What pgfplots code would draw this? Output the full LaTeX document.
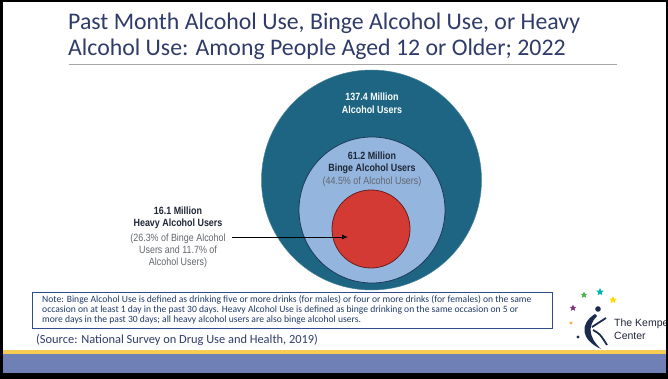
\documentclass[border=0pt]{standalone}
\usepackage{fontspec}
\setmainfont{Carlito}
\newfontfamily\narrowf{Liberation Sans}[FakeStretch=0.85]
\newfontfamily\arialf{Liberation Sans}
\usepackage{pgfplots}
\pgfplotsset{compat=1.18}
\usetikzlibrary{arrows.meta,shapes.geometric}
\definecolor{titlecol}{HTML}{2F3B68}
\definecolor{outercol}{HTML}{1D6583}
\definecolor{midcol}{HTML}{94B6DE}
\definecolor{midedge}{HTML}{1E3A5A}
\definecolor{redcol}{HTML}{D33A34}
\definecolor{rededge}{HTML}{6A1E1E}
\definecolor{darktxt}{HTML}{1E2636}
\definecolor{graytxt}{HTML}{62666E}
\definecolor{notecol}{HTML}{1F3A68}
\definecolor{boxcol}{HTML}{2F4C8C}
\definecolor{bandcol}{HTML}{6F80B6}
\definecolor{yellowcol}{HTML}{F8CC50}
\definecolor{logonavy}{HTML}{1B2A4E}
\begin{document}
\begin{tikzpicture}
\begin{axis}[
  at={(0,0)}, anchor=south west,
  width=668pt, height=378pt, scale only axis,
  xmin=0, xmax=668, ymin=0, ymax=378, y dir=reverse,
  axis lines=box, ticks=none, axis on top, set layers,
  axis line style={black, line width=5pt},
  clip=false,
]
% bottom band
\fill[yellowcol] (axis cs:0,349.5) rectangle (axis cs:668,353.5);
\fill[bandcol] (axis cs:0,353.5) rectangle (axis cs:668,378);
\fill[black] (axis cs:0,373) rectangle (axis cs:668,378);

% title
\node[anchor=base west, font=\fontsize{23.8}{26}\selectfont, text=titlecol, inner sep=0]
  at (axis cs:68,30) {Past Month Alcohol Use, Binge Alcohol Use, or Heavy};
\node[anchor=base west, font=\fontsize{23.8}{26}\selectfont, text=titlecol, inner sep=0]
  at (axis cs:68,56) {Alcohol Use: Among People Aged 12 or Older; 2022};
\draw[gray!70, line width=1.2pt] (axis cs:69,64.5) -- (axis cs:617,64.5);

% nested circles (area proportional to users, millions)
\addplot[only marks, mark=*, mark size=110pt,
  mark options={fill=outercol, draw=outercol!80!white, line width=0.5pt}]
  coordinates {(371.5,180)}; % 137.4 Million
\addplot[only marks, mark=*, mark size=73pt,
  mark options={fill=midcol, draw=midedge, line width=0.8pt}]
  coordinates {(372,210)};   % 61.2 Million
\addplot[only marks, mark=*, mark size=39pt,
  mark options={fill=redcol, draw=rededge, line width=0.8pt}]
  coordinates {(371,229)};   % 16.1 Million

\begin{pgfonlayer}{axis foreground}
% circle labels
\node[anchor=base, font=\narrowf\bfseries\fontsize{10.5}{12}\selectfont, text=white, inner sep=0]
  at (axis cs:372,101) {137.4 Million};
\node[anchor=base, font=\narrowf\bfseries\fontsize{10.5}{12}\selectfont, text=white, inner sep=0]
  at (axis cs:372,113.5) {Alcohol Users};
\node[anchor=base, font=\narrowf\bfseries\fontsize{10.5}{12}\selectfont, text=darktxt, inner sep=0]
  at (axis cs:372,159) {61.2 Million};
\node[anchor=base, font=\narrowf\bfseries\fontsize{10.5}{12}\selectfont, text=darktxt, inner sep=0]
  at (axis cs:372,171.5) {Binge Alcohol Users};
\node[anchor=base, font=\narrowf\fontsize{10.5}{12}\selectfont, text=graytxt, inner sep=0]
  at (axis cs:372,184) {(44.5\% of Alcohol Users)};
\draw[black, line width=1pt, -{Latex[length=6pt,width=5pt]}] (axis cs:232,237) -- (axis cs:348,237);
\end{pgfonlayer}

% heavy users annotation
\node[anchor=base, font=\narrowf\bfseries\fontsize{10.5}{12}\selectfont, text=darktxt, inner sep=0]
  at (axis cs:178,214) {16.1 Million};
\node[anchor=base, font=\narrowf\bfseries\fontsize{10.5}{12}\selectfont, text=darktxt, inner sep=0]
  at (axis cs:178,226.5) {Heavy Alcohol Users};
\node[anchor=base, font=\narrowf\fontsize{10.5}{12}\selectfont, text=graytxt, inner sep=0]
  at (axis cs:178,241) {(26.3\% of Binge Alcohol};
\node[anchor=base, font=\narrowf\fontsize{10.5}{12}\selectfont, text=graytxt, inner sep=0]
  at (axis cs:178,253) {Users and 11.7\% of};
\node[anchor=base, font=\narrowf\fontsize{10.5}{12}\selectfont, text=graytxt, inner sep=0]
  at (axis cs:178,265) {Alcohol Users)};

% note box
\draw[boxcol, line width=0.9pt, fill=white] (axis cs:32,292) rectangle (axis cs:552,328);
\node[anchor=base west, font=\fontsize{9.6}{10}\selectfont, text=notecol, inner sep=0]
  at (axis cs:42,302) {Note: Binge Alcohol Use is defined as drinking five or more drinks (for males) or four or more drinks (for females) on the same};
\node[anchor=base west, font=\fontsize{9.6}{10}\selectfont, text=notecol, inner sep=0]
  at (axis cs:42,312) {occasion on at least 1 day in the past 30 days. Heavy Alcohol Use is defined as binge drinking on the same occasion on 5 or};
\node[anchor=base west, font=\fontsize{9.6}{10}\selectfont, text=notecol, inner sep=0]
  at (axis cs:42,322) {more days in the past 30 days; all heavy alcohol users are also binge alcohol users.};

% source
\node[anchor=base west, font=\fontsize{12.4}{14}\selectfont, text=titlecol, inner sep=0]
  at (axis cs:36,343) {(Source: National Survey on Drug Use and Health, 2019)};

% logo
\node[star, star points=5, star point ratio=2.2, fill=teal!60!cyan, inner sep=0, minimum size=8pt] at (axis cs:600,292) {};
\node[star, star points=5, star point ratio=2.2, fill=gray!60!green, inner sep=0, minimum size=7pt] at (axis cs:584,295) {};
\node[star, star points=5, star point ratio=2.2, fill=yellow!80!orange, inner sep=0, minimum size=8pt] at (axis cs:613,300) {};
\node[star, star points=5, star point ratio=2.2, fill=violet!60!gray, inner sep=0, minimum size=7pt] at (axis cs:573,308) {};
\fill[orange!70] (axis cs:571,323) circle (1.6pt);
\fill[logonavy] (axis cs:578,337) circle (1.6pt);
\fill[logonavy] (axis cs:598,309) circle (2.8pt);
\fill[logonavy] (axis cs:595,314) .. controls (axis cs:579,324) and (axis cs:581,340) .. (axis cs:601,349)
  .. controls (axis cs:589,338) and (axis cs:587,326) .. (axis cs:597,316) -- cycle;
\draw[logonavy, line width=1.8pt] (axis cs:592,327) -- (axis cs:606,318);
\draw[logonavy, line width=1.8pt] (axis cs:593,330) .. controls (axis cs:600,334) .. (axis cs:607,345);
\node[anchor=base west, font=\arialf\fontsize{10.5}{12}\selectfont, text=darktxt, inner sep=0]
  at (axis cs:614,326) {The Kempe};
\node[anchor=base west, font=\arialf\fontsize{10.5}{12}\selectfont, text=darktxt, inner sep=0]
  at (axis cs:614,339) {Center};
\end{axis}
\pgfresetboundingbox
\path[use as bounding box] (0,0) rectangle (668pt,378pt);
\end{tikzpicture}
\end{document}
